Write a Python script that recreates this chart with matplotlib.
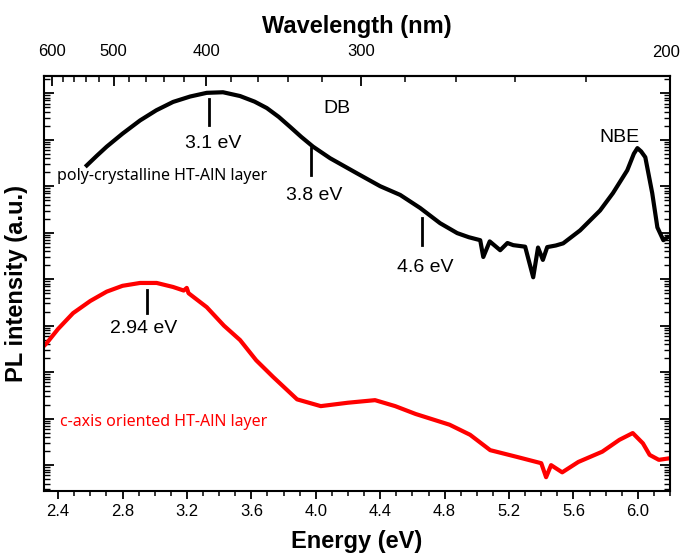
import numpy as np
import matplotlib
matplotlib.use("Agg")
import matplotlib.pyplot as plt
from matplotlib.ticker import LogLocator, MultipleLocator, FixedLocator, FixedFormatter, NullFormatter

plt.rcParams['font.family'] = ['Liberation Sans', 'DejaVu Sans']

# poly-crystalline HT-AlN layer (black), energy in eV, PL intensity in a.u.
poly_energy = [2.578, 2.64, 2.702, 2.80, 2.909, 3.01, 3.114, 3.22, 3.323, 3.424, 3.530,
               3.62, 3.696, 3.77, 3.840, 3.91, 3.983, 4.089, 4.255, 4.40, 4.524, 4.648,
               4.772, 4.878, 4.95, 5.021, 5.04, 5.08, 5.145, 5.19, 5.226, 5.30, 5.35,
               5.38, 5.41, 5.437, 5.49, 5.536, 5.641, 5.765, 5.845, 5.934, 5.975, 5.997,
               6.02, 6.046, 6.089, 6.121, 6.158, 6.183]
poly_int = [2.8e6, 4.5e6, 7.1e6, 1.35e7, 2.6e7, 4.3e7, 6.5e7, 8.5e7, 1.02e8, 1.05e8, 8.7e7,
            6.6e7, 4.8e7, 3.1e7, 1.9e7, 1.15e7, 7.1e6, 4.0e6, 1.9e6, 1.0e6, 6.5e5, 3.4e5,
            1.6e5, 9.8e4, 8.0e4, 6.9e4, 3.0e4, 6.5e4, 4.2e4, 6.0e4, 5.4e4, 5.0e4, 1.1e4,
            4.8e4, 2.6e4, 4.9e4, 5.3e4, 5.9e4, 1.12e5, 3.0e5, 7.1e5, 2.2e6, 5.0e6, 6.6e6,
            5.6e6, 4.2e6, 7.1e5, 1.3e5, 6.9e4, 7.9e4]

# c-axis oriented HT-AlN layer (red)
caxis_energy = [2.31, 2.329, 2.40, 2.493, 2.60, 2.702, 2.80, 2.909, 3.012, 3.114, 3.18,
                3.199, 3.21, 3.323, 3.43, 3.530, 3.63, 3.735, 3.884, 4.031, 4.199, 4.368,
                4.493, 4.620, 4.831, 4.958, 5.083, 5.250, 5.40, 5.43, 5.461, 5.53, 5.630,
                5.779, 5.885, 5.968, 6.031, 6.073, 6.13, 6.2]
caxis_int = [3.6e2, 4.2e2, 8.5e2, 1.86e3, 3.4e3, 5.4e3, 7.2e3, 8.3e3, 8.3e3, 6.8e3, 5.7e3,
             6.5e3, 5.0e3, 2.5e3, 1.0e3, 4.9e2, 1.8e2, 7.9e1, 2.6e1, 1.86e1, 2.2e1, 2.5e1,
             1.86e1, 1.26e1, 7.4e0, 4.5e0, 2.1e0, 1.5e0, 1.1e0, 0.55, 1.0e0, 0.7, 1.17e0,
             1.95e0, 3.5e0, 4.9e0, 2.95e0, 1.66e0, 1.3e0, 1.41e0]

# peak markers: (energy position, label)
poly_marks = [(3.34, "3.1 eV"), (3.969, "3.8 eV"), (4.658, "4.6 eV")]
caxis_marks = [(2.950, "2.94 eV")]

wl_major = [600, 500, 400, 300, 200]
wl_labels = ['600', '500', '400', '300', '']   # 200 placed by hand at the edge
wl_minor = [620, 580, 560, 540, 520, 480, 460, 440, 420, 380, 360, 340, 320,
            280, 260, 240, 220]


def e_to_wl(e):
    e = np.asarray(e, dtype=float)
    with np.errstate(divide='ignore', invalid='ignore'):
        return 1239.84 / (6.2 - 1.077 * (6.2 - e))


def wl_to_e(wl):
    wl = np.asarray(wl, dtype=float)
    with np.errstate(divide='ignore', invalid='ignore'):
        return 6.2 - (6.2 - 1239.84 / wl) / 1.077


fig = plt.figure(figsize=(6.81, 5.55), dpi=100)
ax = fig.add_axes([0.064, 0.115, 0.920, 0.748])

ax.plot(poly_energy, poly_int, color='black', lw=3.0, solid_joinstyle='round')
ax.plot(caxis_energy, caxis_int, color='red', lw=3.0, solid_joinstyle='round')

ax.set_yscale('log')
ax.set_xlim(2.31, 6.2)
ax.set_ylim(10 ** -0.56, 10 ** 8.37)

ax.xaxis.set_major_locator(MultipleLocator(0.4))
ax.xaxis.set_minor_locator(MultipleLocator(0.1))
ax.tick_params(axis='x', which='major', direction='out', length=6, width=1.3,
               labelsize=12, top=False)
ax.tick_params(axis='x', which='minor', direction='out', length=3.5, width=1.1, top=False)

ax.yaxis.set_major_locator(LogLocator(base=10, numticks=20))
ax.yaxis.set_minor_locator(LogLocator(base=10, subs=np.arange(2, 10), numticks=20))
ax.yaxis.set_major_formatter(NullFormatter())
ax.yaxis.set_minor_formatter(NullFormatter())
ax.tick_params(axis='y', which='major', direction='in', length=7, width=1.3,
               left=True, right=True)
ax.tick_params(axis='y', which='minor', direction='in', length=4, width=1.0,
               left=True, right=True)

for sp in ax.spines.values():
    sp.set_linewidth(1.5)

ax.set_xlabel('Energy (eV)', fontsize=17, fontweight='bold', labelpad=8)
ax.set_ylabel('PL intensity (a.u.)', fontsize=17, fontweight='bold', labelpad=8)

sec = ax.secondary_xaxis('top', functions=(e_to_wl, wl_to_e))
sec.xaxis.set_major_locator(FixedLocator(wl_major))
sec.xaxis.set_major_formatter(FixedFormatter(wl_labels))
sec.xaxis.set_minor_locator(FixedLocator(wl_minor))
sec.xaxis.set_minor_formatter(NullFormatter())
sec.tick_params(axis='x', which='major', direction='in', length=7, width=1.3,
                labelsize=12, pad=12)
sec.tick_params(axis='x', which='minor', direction='in', length=4, width=1.1)
sec.spines['top'].set_linewidth(1.5)
sec.set_xlabel('Wavelength (nm)', fontsize=17, fontweight='bold', labelpad=8)
ax.annotate('200', xy=(float(wl_to_e(200)), 1), xycoords=('data', 'axes fraction'),
            xytext=(10, 16), textcoords='offset pixels', ha='right', va='bottom',
            fontsize=12, annotation_clip=False)

# peak marks
mark_top = {3.34: (7.87, 7.31, 6.92), 3.969: (6.82, 6.24, 5.81), 4.658: (5.31, 4.73, 4.26)}
for e, lab in poly_marks:
    y0, y1, yt = mark_top[e]
    ax.plot([e, e], [10 ** y0, 10 ** y1], color='black', lw=2)
    ax.text(e + 0.02, 10 ** yt, lab, fontsize=14, ha='center', va='center')
for e, lab in caxis_marks:
    ax.plot([e, e], [10 ** 3.76, 10 ** 3.27], color='black', lw=2)
    ax.text(e - 0.02, 10 ** 2.95, lab, fontsize=14, ha='center', va='center')

ax.text(4.132, 10 ** 7.68, 'DB', fontsize=14, ha='center', va='center')
ax.text(5.884, 10 ** 7.05, 'NBE', fontsize=14, ha='center', va='center')

ax.text(2.393, 10 ** 6.22, 'poly-crystalline HT-AlN layer', fontsize=11.5,
        family=['Noto Sans', 'DejaVu Sans'], ha='left', va='center', color='black')
ax.text(2.412, 10 ** 0.925, 'c-axis oriented HT-AlN layer', fontsize=11.5,
        family=['Noto Sans', 'DejaVu Sans'], ha='left', va='center', color='red')

fig.savefig('out.png', dpi=100)
